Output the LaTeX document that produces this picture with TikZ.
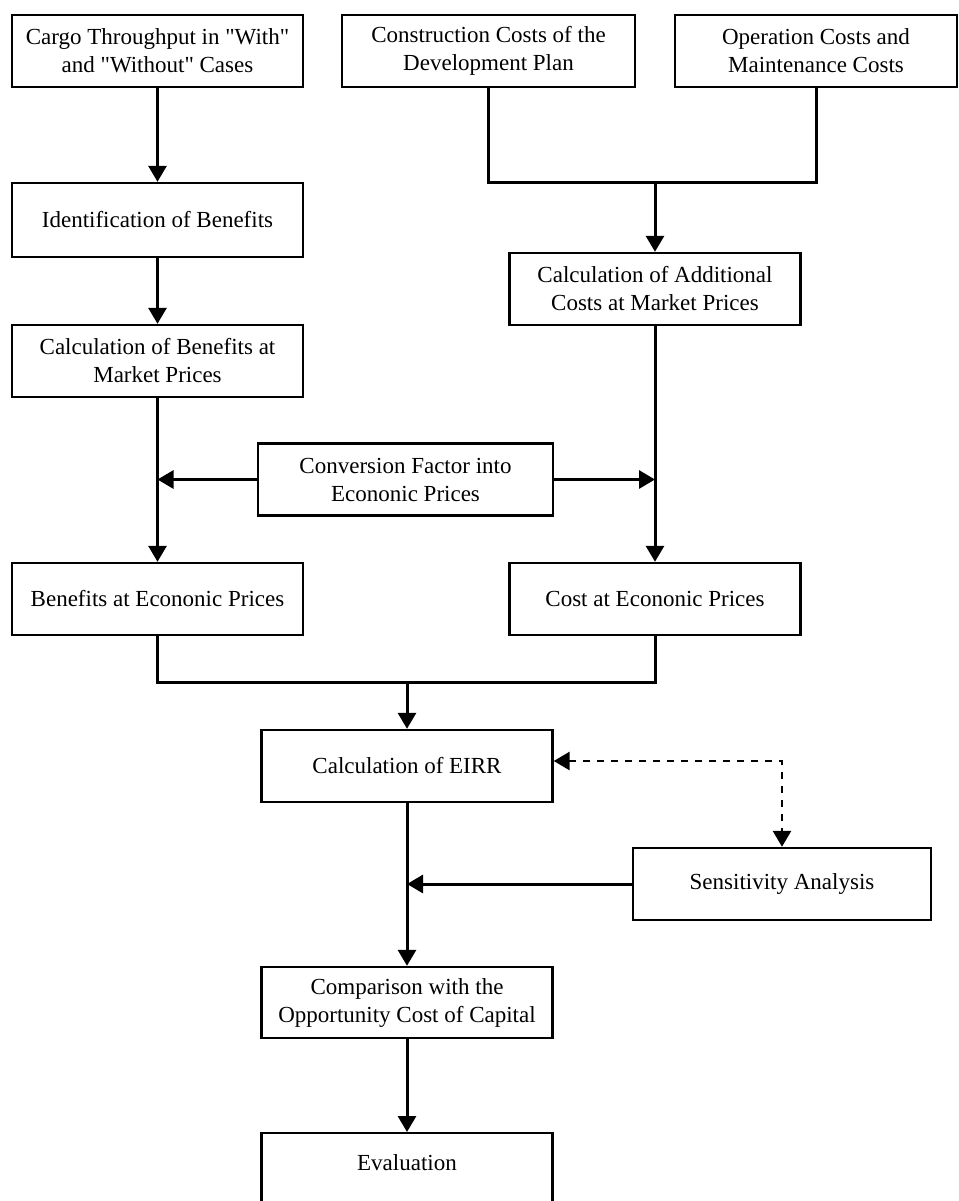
\documentclass[tikz,border=0pt]{standalone}
\usepackage{fontspec}
\setmainfont{Liberation Serif}
\usetikzlibrary{arrows.meta}

\tikzset{
    box/.style={draw, line width=1.2pt, minimum width=145.5pt, minimum height=36pt,
        inner sep=0pt, align=center, font=\fontsize{11.5}{14}\selectfont},
    link/.style={line width=1.5pt},
    arr/.style={link, -{Triangle[width=9pt,length=8pt]}},
    dotarr/.style={line width=1.4pt, dash pattern=on 3.5pt off 3.5pt,
        {Triangle[width=9pt,length=8pt]}-{Triangle[width=9pt,length=8pt]}}
}

\begin{document}
\begin{tikzpicture}[x=0.5pt, y=-0.5pt]
        \useasboundingbox (0,0) rectangle (959,1201);
        \node[box] (cargo) at (157.5,51) {Cargo Throughput in \textquotedbl With\textquotedbl\\and \textquotedbl Without\textquotedbl{} Cases};
        \node[box, minimum width=146.5pt] (constr) at (488.5,51) {Construction Costs of the\\Development Plan};
        \node[box, minimum width=141pt] (oper) at (816,51) {Operation Costs and\\Maintenance Costs};
        \node[box, minimum height=37pt] (ident) at (157.5,220) {Identification of Benefits};
        \node[box] (addcost) at (655,289) {Calculation of Additional\\Costs at Market Prices};
        \node[box] (benmkt) at (157.5,361) {Calculation of Benefits at\\Market Prices};
        \node[box, minimum width=147.5pt] (conv) at (405.5,479.5) {Conversion Factor into\\Econonic Prices};
        \node[box] (benecon) at (157.5,599) {Benefits at Econonic Prices};
        \node[box] (costecon) at (655,599) {Cost at Econonic Prices};
        \node[box] (eirr) at (407,766) {Calculation of EIRR};
        \node[box, minimum width=149pt] (sens) at (782,884) {Sensitivity Analysis};
        \node[box, minimum height=35.5pt] (comp) at (407,1002.5) {Comparison with the\\Opportunity Cost of Capital};
        \node[box, anchor=north, minimum height=70pt, text height=8pt, text depth=41pt] (eval) at (407,1132) {Evaluation};

        \coordinate (cjoin) at (655,182);
        \coordinate (bjoin) at (407,682);

        \draw[arr] (cargo) -- (ident);
        \draw[arr] (ident) -- (benmkt);
        \draw[arr] (benmkt) -- (benecon);
        \draw[link] (constr.south) |- (cjoin) -| (oper.south);
        \draw[arr] (cjoin) -- (addcost.north);
        \draw[arr] (addcost) -- (costecon);
        \draw[arr] (conv.west) -- (conv.west -| benmkt.south);
        \draw[arr] (conv.east) -- (conv.east -| addcost.south);
        \draw[link] (benecon.south) |- (bjoin) -| (costecon.south);
        \draw[arr] (bjoin) -- (eirr.north);
        \draw[arr] (eirr) -- (comp);
        \draw[arr] (sens.west) -- (sens.west -| eirr.south);
        \draw[dotarr] ([yshift=2.5pt]eirr.east) -| (sens.north);
        \draw[arr] (comp) -- (eval);
    \end{tikzpicture}
\end{document}
